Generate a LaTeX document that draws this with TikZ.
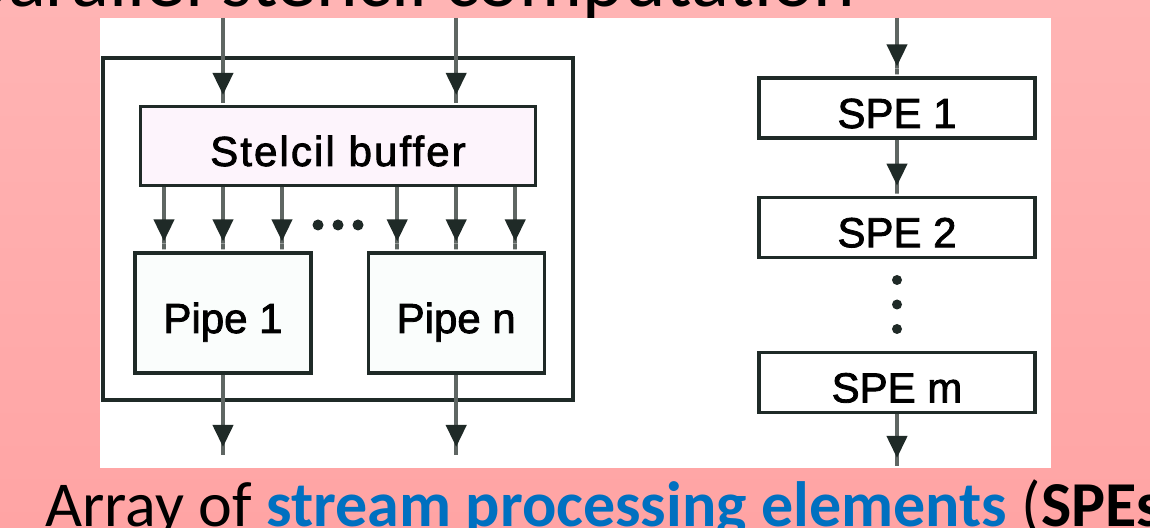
\documentclass[tikz,border=0pt]{standalone}
\usepackage{fontspec}
\setmainfont{Carlito}
\newfontfamily\diagfont[FakeBold=2]{Liberation Sans}
\usetikzlibrary{arrows.meta, positioning}

\definecolor{slidetop}{HTML}{FFB4B4}
\definecolor{slidebottom}{HTML}{FFA4A4}
\definecolor{inkdark}{HTML}{1F2A27}
\definecolor{stemgray}{HTML}{5F6663}
\definecolor{bufferpink}{HTML}{FDF4FC}
\definecolor{pipewhite}{HTML}{FAFDFC}
\definecolor{keyblue}{HTML}{0070C0}

\begin{document}
\begin{tikzpicture}[
  x=0.5pt, y=-0.5pt,
  flowtip/.tip={Triangle[width=10pt, length=11pt, sep=0pt, color=inkdark] Rectangle[length=5pt, width=2pt]},
  flow/.style={draw=stemgray, line width=2pt, -{flowtip}},
  unit/.style={rectangle, draw=inkdark, line width=1.6pt, align=center, font=\diagfont\fontsize{21}{24}\selectfont, text height=20pt, text depth=0pt, inner sep=0pt},
  bufferbox/.style={unit, fill=bufferpink, minimum width=197.5pt, minimum height=39.5pt, font=\diagfont\fontsize{21}{24}\selectfont\addfontfeature{LetterSpace=5}},
  pipebox/.style={unit, fill=pipewhite, minimum width=88pt, minimum height=60pt},
  spebox/.style={unit, fill=white, minimum width=138pt, minimum height=30pt},
  framebox/.style={rectangle, draw=inkdark, line width=2.4pt, minimum width=235pt, minimum height=171pt, inner sep=0pt},
  dotmark/.style={circle, fill=inkdark, minimum size=5.5pt, inner sep=0pt}
]
\useasboundingbox (0,0) rectangle (1150,528);
\clip (0,0) rectangle (1150,528);

% Slide background
\shade[top color=slidetop, bottom color=slidebottom] (0,0) rectangle (1150,528);
\node[anchor=base east, inner sep=0pt, font=\fontsize{39.5}{44}\selectfont] (title) at (856,7) {parallel stencil computation};
\fill[white] (100,18) rectangle (1051,468);
\node[anchor=base west, inner sep=0pt, font=\fontsize{32}{36}\selectfont] (caption) at (45,526) {Array of \textcolor{keyblue}{\textbf{stream processing elements}} (\textbf{SPEs})};

% Stencil side
\node[framebox] (stencil) at (338,229) {};
\node[bufferbox] (buffer) at (338,146) {Stelcil buffer};
\node[pipebox] (pipe1) at (223,313) {Pipe 1};
\node[pipebox, right=27pt of pipe1] (pipen) {Pipe n};

\coordinate (in1) at (pipe1 |- 0,18);
\coordinate (inn) at (pipen |- 0,18);
\coordinate (out1) at (pipe1 |- 0,457);
\coordinate (outn) at (pipen |- 0,457);

\draw[flow] (in1) -- (buffer.north -| in1);
\draw[flow] (inn) -- (buffer.north -| inn);

\foreach \p in {pipe1, pipen}
  \foreach \dx in {-29.5, 0, 29.5}
    \draw[flow] ([xshift=\dx pt]buffer.south -| \p.north) -- ([xshift=\dx pt]\p.north);

\foreach \i/\dx in {1/-10, 2/0, 3/10}
  \node[dotmark] (hdot\i) at ([xshift=\dx pt]buffer.south |- 0,225) {};

\draw[flow] (pipe1) -- (out1);
\draw[flow] (pipen) -- (outn);

% SPE chain
\node[spebox] (spe1) at (897,108) {SPE 1};
\node[spebox, below=28pt of spe1] (spe2) {SPE 2};
\node[spebox, below=46pt of spe2] (spem) {SPE m};

\coordinate (spein) at (spe1 |- 0,18);
\coordinate (speout) at (spem |- 0,468);

\draw[flow] (spein) -- (spe1);
\draw[flow] (spe1) -- (spe2);
\draw[flow] (spem) -- (speout);

\foreach \i/\y in {1/280, 2/304.5, 3/329}
  \node[dotmark, minimum size=5pt] (vdot\i) at (spe2 |- 0,\y) {};

\end{tikzpicture}
\end{document}
